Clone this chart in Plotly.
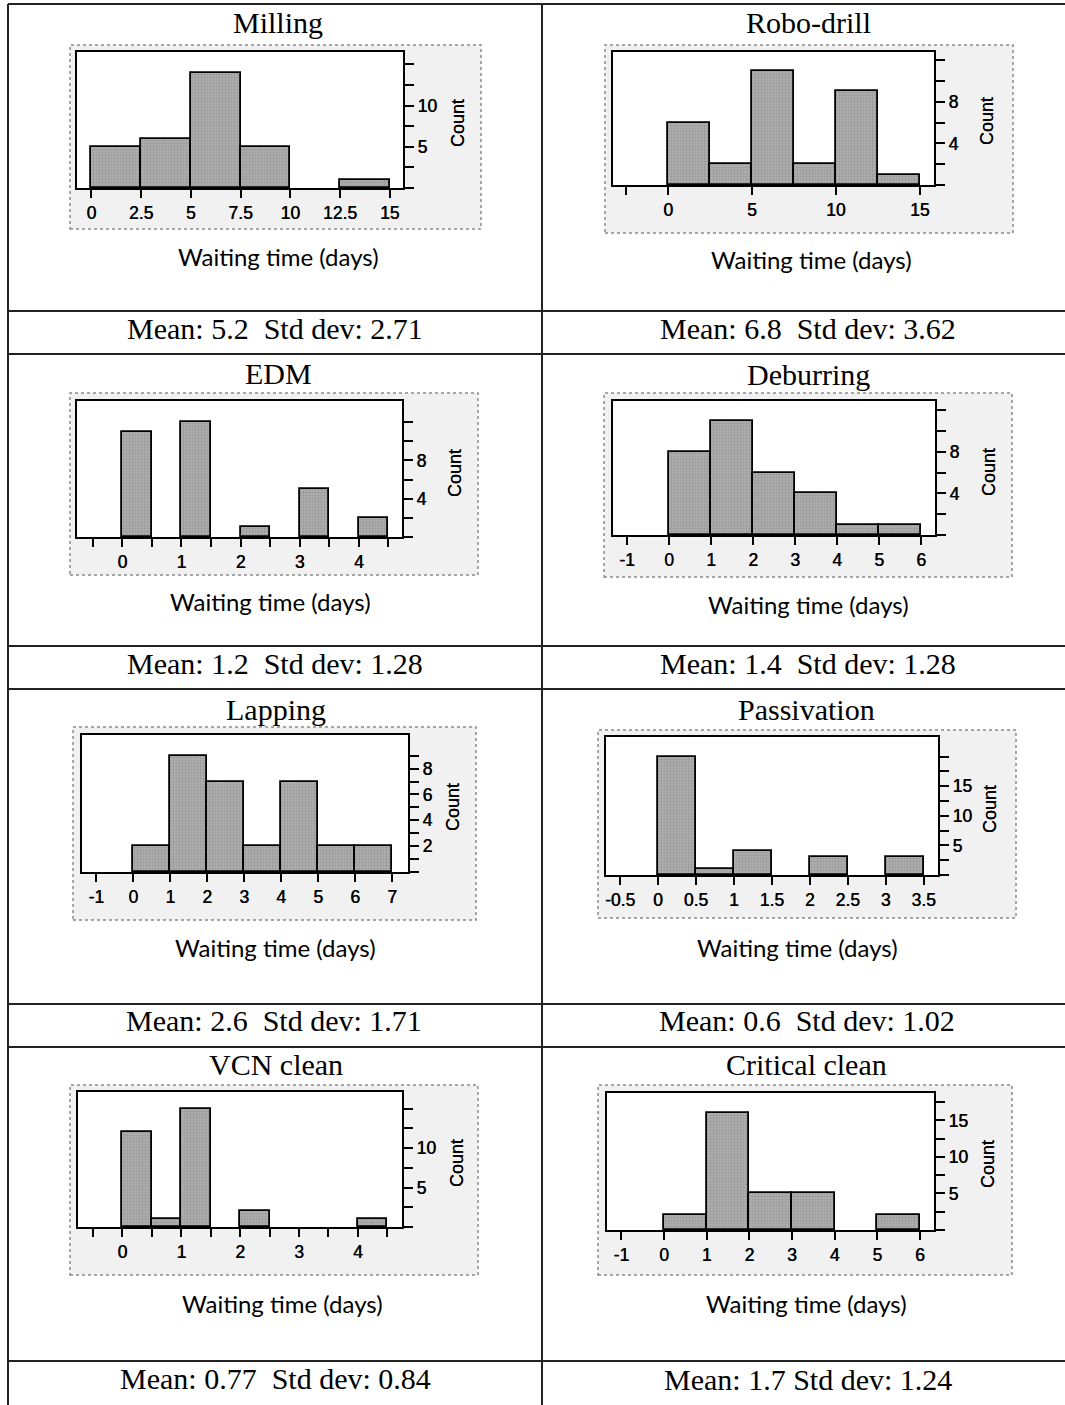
import plotly.graph_objects as go

W, H = 1065, 1405

# ---- histogram data: bin starts, bin width, counts ----
milling_starts = [0, 2.5, 5, 7.5, 10, 12.5]
milling_counts = [5, 6, 14, 5, 0, 1]

robo_starts = [0, 2.5, 5, 7.5, 10, 12.5]
robo_counts = [6, 2, 11, 2, 9, 1]

edm_starts = [0, 0.5, 1, 1.5, 2, 2.5, 3, 3.5, 4]
edm_counts = [11, 0, 12, 0, 1, 0, 5, 0, 2]

deburr_starts = [0, 1, 2, 3, 4, 5]
deburr_counts = [8, 11, 6, 4, 1, 1]

lapping_starts = [0, 1, 2, 3, 4, 5, 6]
lapping_counts = [2, 9, 7, 2, 7, 2, 2]

passiv_starts = [0, 0.5, 1, 1.5, 2, 2.5, 3]
passiv_counts = [20, 1, 4, 0, 3, 0, 3]

vcn_starts = [0, 0.5, 1, 1.5, 2, 2.5, 3, 3.5, 4]
vcn_counts = [12, 1, 15, 0, 2, 0, 0, 0, 1]

critical_starts = [0, 1, 2, 3, 4, 5]
critical_counts = [2, 16, 5, 5, 0, 2]

process_names = ["Milling", "Robo-drill", "EDM", "Deburring",
                 "Lapping", "Passivation", "VCN clean", "Critical clean"]
stat_labels = ["Mean: 5.2  Std dev: 2.71", "Mean: 6.8  Std dev: 3.62",
               "Mean: 1.2  Std dev: 1.28", "Mean: 1.4  Std dev: 1.28",
               "Mean: 2.6  Std dev: 1.71", "Mean: 0.6  Std dev: 1.02",
               "Mean: 0.77  Std dev: 0.84", "Mean: 1.7 Std dev: 1.24"]

# ---- tick definitions ----
milling_xticks = [0, 2.5, 5, 7.5, 10, 12.5, 15]
milling_xlabels = ["0", "2.5", "5", "7.5", "10", "12.5", "15"]
milling_yticks = [0, 2.5, 5, 7.5, 10, 12.5, 15]
milling_ylabels = ["", "", "5", "", "10", "", ""]

robo_xticks = [-2.5, 0, 5, 10, 15]
robo_xlabels = ["", "0", "5", "10", "15"]
robo_yticks = [0, 2, 4, 6, 8, 10, 12]
robo_ylabels = ["", "", "4", "", "8", "", ""]

edm_xticks = [-0.5, 0, 0.5, 1, 1.5, 2, 2.5, 3, 3.5, 4, 4.5]
edm_xlabels = ["", "0", "", "1", "", "2", "", "3", "", "4", ""]
edm_yticks = [0, 2, 4, 6, 8, 10, 12]
edm_ylabels = ["", "", "4", "", "8", "", ""]

deburr_xticks = [-1, 0, 1, 2, 3, 4, 5, 6]
deburr_xlabels = ["-1", "0", "1", "2", "3", "4", "5", "6"]
deburr_yticks = [0, 2, 4, 6, 8, 10, 12]
deburr_ylabels = ["", "", "4", "", "8", "", ""]

lapping_xticks = [-1, 0, 1, 2, 3, 4, 5, 6, 7]
lapping_xlabels = ["-1", "0", "1", "2", "3", "4", "5", "6", "7"]
lapping_yticks = [0, 1, 2, 3, 4, 5, 6, 7, 8, 9]
lapping_ylabels = ["", "", "2", "", "4", "", "6", "", "8", ""]

passiv_xticks = [-0.5, 0, 0.5, 1, 1.5, 2, 2.5, 3, 3.5]
passiv_xlabels = ["-0.5", "0", "0.5", "1", "1.5", "2", "2.5", "3", "3.5"]
passiv_yticks = [0, 2.5, 5, 7.5, 10, 12.5, 15, 17.5, 20]
passiv_ylabels = ["", "", "5", "", "10", "", "15", "", ""]

vcn_xticks = [-0.5, 0, 0.5, 1, 1.5, 2, 2.5, 3, 3.5, 4, 4.5]
vcn_xlabels = ["", "0", "", "1", "", "2", "", "3", "", "4", ""]
vcn_yticks = [0, 2.5, 5, 7.5, 10, 12.5, 15]
vcn_ylabels = ["", "", "5", "", "10", "", ""]

critical_xticks = [-1, 0, 1, 2, 3, 4, 5, 6]
critical_xlabels = ["-1", "0", "1", "2", "3", "4", "5", "6"]
critical_yticks = [0, 2.5, 5, 7.5, 10, 12.5, 15, 17.5]
critical_ylabels = ["", "", "5", "", "10", "", "15", ""]

# ---- layout of each cell (pixel geometry) ----
panels = [
    dict(starts=milling_starts, counts=milling_counts, width=2.5,
         xt=milling_xticks, xl=milling_xlabels, yt=milling_yticks, yl=milling_ylabels,
         xr=[-0.72, 15.67], yr=[0, 16.5], inner=(77, 52, 403, 188), outer=(70, 45, 481, 229),
         title=(278, 22), wait=(278, 256), count=(458, 123), stat=(275, 328)),
    dict(starts=robo_starts, counts=robo_counts, width=2.5,
         xt=robo_xticks, xl=robo_xlabels, yt=robo_yticks, yl=robo_ylabels,
         xr=[-3.28, 15.85], yr=[0, 12.8], inner=(613, 52, 934, 185), outer=(605, 45, 1013, 233),
         title=(808, 22), wait=(812, 259), count=(987, 121), stat=(808, 329)),
    dict(starts=edm_starts, counts=edm_counts, width=0.5,
         xt=edm_xticks, xl=edm_xlabels, yt=edm_yticks, yl=edm_ylabels,
         xr=[-0.767, 4.73], yr=[0, 14.2], inner=(77, 401, 402, 537), outer=(70, 393, 478, 575),
         title=(278, 373), wait=(270, 601), count=(455, 473), stat=(275, 663)),
    dict(starts=deburr_starts, counts=deburr_counts, width=1,
         xt=deburr_xticks, xl=deburr_xlabels, yt=deburr_yticks, yl=deburr_ylabels,
         xr=[-1.333, 6.33], yr=[0, 12.9], inner=(613, 401, 935, 535), outer=(604, 393, 1012, 577),
         title=(808, 374), wait=(808, 604), count=(989, 472), stat=(808, 663)),
    dict(starts=lapping_starts, counts=lapping_counts, width=1,
         xt=lapping_xticks, xl=lapping_xlabels, yt=lapping_yticks, yl=lapping_ylabels,
         xr=[-1.387, 7.43], yr=[0, 10.6], inner=(82, 735, 408, 872), outer=(73, 727, 476, 920),
         title=(276, 709), wait=(275, 947), count=(453, 807), stat=(274, 1020)),
    dict(starts=passiv_starts, counts=passiv_counts, width=0.5,
         xt=passiv_xticks, xl=passiv_xlabels, yt=passiv_yticks, yl=passiv_ylabels,
         xr=[-0.685, 3.69], yr=[0, 23.3], inner=(606, 737, 938, 875), outer=(598, 730, 1016, 918),
         title=(806, 709), wait=(797, 947), count=(990, 809), stat=(807, 1020)),
    dict(starts=vcn_starts, counts=vcn_counts, width=0.5,
         xt=vcn_xticks, xl=vcn_xlabels, yt=vcn_yticks, yl=vcn_ylabels,
         xr=[-0.755, 4.75], yr=[0, 17.1], inner=(78, 1092, 402, 1227), outer=(70, 1085, 478, 1275),
         title=(276, 1064), wait=(282, 1303), count=(457, 1163), stat=(275, 1378)),
    dict(starts=critical_starts, counts=critical_counts, width=1,
         xt=critical_xticks, xl=critical_xlabels, yt=critical_yticks, yl=critical_ylabels,
         xr=[-1.336, 6.33], yr=[0, 18.75], inner=(607, 1093, 934, 1230), outer=(598, 1085, 1012, 1275),
         title=(806, 1064), wait=(806, 1303), count=(988, 1164), stat=(808, 1379)),
]

table_rows_y = [4, 311, 354, 646, 689, 1004, 1047, 1361]
table_cols_x = [8, 542]


def px(x):
    return x / W


def py(y):
    return 1 - y / H


fig = go.Figure()
shapes = []
annotations = []
layout_axes = {}

# slightly heavier sans labels (a thin offset shadow thickens the strokes)
tick_font = dict(family="Liberation Sans, Arial, sans-serif", size=17.5, color="black",
                 shadow="0.45px 0px 0px black")
count_font = dict(family="Liberation Sans, Arial, sans-serif", size=18, color="black",
                  shadow="0px 0.45px 0px black")
serif = dict(family="Liberation Serif, Times New Roman, serif", size=30, color="black")
label_font = dict(family="Lato, Open Sans, sans-serif", size=24, color="black")

for i, p in enumerate(panels):
    n = i + 1
    xa = "x" if n == 1 else f"x{n}"
    ya = "y" if n == 1 else f"y{n}"
    l, t, r, b = p["inner"]
    ol, ot, orr, ob = p["outer"]

    # light textured backdrop of the chart image, dotted border
    shapes.append(dict(type="rect", xref="paper", yref="paper", layer="below",
                       x0=px(ol), x1=px(orr), y0=py(ob), y1=py(ot),
                       fillcolor="#f1f1f1",
                       line=dict(color="#8a8a8a", width=1.5, dash="dot")))
    # white plotting area
    shapes.append(dict(type="rect", xref="paper", yref="paper", layer="below",
                       x0=px(l), x1=px(r), y0=py(b), y1=py(t),
                       fillcolor="white", line=dict(width=0)))

    # only non-empty bins get a bar outline
    xs = [s for s, c in zip(p["starts"], p["counts"]) if c > 0]
    ys = [c for c in p["counts"] if c > 0]
    fig.add_trace(go.Bar(
        x=xs, y=ys, width=p["width"], offset=0,
        marker=dict(color="#a6a6a6", line=dict(color="black", width=1.8),
                    pattern=dict(shape=".", fgcolor="#808080", bgcolor="#adadad",
                                 size=3, solidity=0.3)),
        xaxis=xa, yaxis=ya, showlegend=False, hoverinfo="skip"))

    layout_axes["xaxis" if n == 1 else f"xaxis{n}"] = dict(
        domain=[px(l), px(r)], anchor=ya, range=p["xr"],
        tickmode="array", tickvals=p["xt"], ticktext=p["xl"],
        ticks="outside", ticklen=8, tickwidth=1.6, tickcolor="black",
        showline=True, linecolor="black", linewidth=2, mirror=True,
        showgrid=False, zeroline=False, tickfont=tick_font, fixedrange=True)
    layout_axes["yaxis" if n == 1 else f"yaxis{n}"] = dict(
        domain=[py(b), py(t)], anchor=xa, range=p["yr"], side="right",
        tickmode="array", tickvals=p["yt"], ticktext=p["yl"],
        ticks="outside", ticklen=9, tickwidth=1.6, tickcolor="black",
        showline=True, linecolor="black", linewidth=2, mirror=True,
        showgrid=False, zeroline=False, tickfont=tick_font, fixedrange=True)

    annotations.append(dict(xref="paper", yref="paper", x=px(p["title"][0]), y=py(p["title"][1]),
                            text=process_names[i], showarrow=False, font=serif,
                            xanchor="center", yanchor="middle"))
    annotations.append(dict(xref="paper", yref="paper", x=px(p["wait"][0]), y=py(p["wait"][1]),
                            text="Waiting time (days)", showarrow=False, font=label_font,
                            xanchor="center", yanchor="middle"))
    annotations.append(dict(xref="paper", yref="paper", x=px(p["count"][0]), y=py(p["count"][1]),
                            text="Count", showarrow=False, font=count_font, textangle=-90,
                            xanchor="center", yanchor="middle"))
    annotations.append(dict(xref="paper", yref="paper", x=px(p["stat"][0]), y=py(p["stat"][1]),
                            text=stat_labels[i].replace("  ", "\u00a0\u00a0"), showarrow=False,
                            font=serif, xanchor="center", yanchor="middle"))

# table ruling
for y in table_rows_y:
    shapes.append(dict(type="line", xref="paper", yref="paper",
                       x0=px(table_cols_x[0]), x1=1, y0=py(y), y1=py(y),
                       line=dict(color="#222222", width=2)))
for x in table_cols_x:
    shapes.append(dict(type="line", xref="paper", yref="paper",
                       x0=px(x), x1=px(x), y0=0, y1=py(table_rows_y[0]),
                       line=dict(color="#222222", width=2)))

fig.update_layout(
    width=W, height=H, margin=dict(l=0, r=0, t=0, b=0),
    paper_bgcolor="white", plot_bgcolor="rgba(0,0,0,0)",
    shapes=shapes, annotations=annotations, bargap=0,
    **layout_axes)

fig.write_html("out.html", config={"displayModeBar": False})
